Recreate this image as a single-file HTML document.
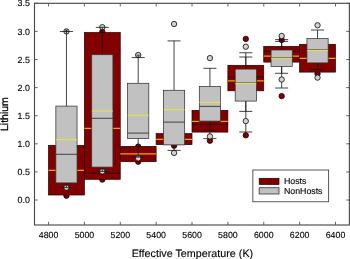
<!DOCTYPE html><html><head><meta charset="utf-8"><title>Lithium vs Effective Temperature</title>
<style>html,body{margin:0;padding:0;background:#fff}svg{display:block}text{font-family:"Liberation Sans",Arial,sans-serif;fill:#000;stroke:#000;stroke-width:0.12px;text-rendering:geometricPrecision}</style></head><body>
<svg width="350" height="259" viewBox="0 0 350 259">
<rect width="350" height="259" fill="#fff"/>
<g id="hosts">
<circle cx="66.45" cy="195.70" r="2.68" fill="#820000" stroke="#1a0000" stroke-width="0.85"/>
<rect x="48.52" y="145.40" width="35.86" height="49.60" fill="#820000" stroke="#1a0000" stroke-width="0.7"/>
<line x1="48.52" y1="170.40" x2="84.38" y2="170.40" stroke="#e8a808" stroke-width="1.15"/>
<circle cx="102.32" cy="31.80" r="2.68" fill="#820000" stroke="#1a0000" stroke-width="0.85"/>
<circle cx="102.32" cy="179.60" r="2.68" fill="#820000" stroke="#1a0000" stroke-width="0.85"/>
<rect x="84.39" y="32.50" width="35.86" height="146.80" fill="#820000" stroke="#1a0000" stroke-width="0.7"/>
<line x1="84.39" y1="173.20" x2="120.25" y2="173.20" stroke="#300000" stroke-width="0.9"/>
<line x1="84.39" y1="128.40" x2="120.25" y2="128.40" stroke="#e8a808" stroke-width="1.15"/>
<circle cx="138.19" cy="146.60" r="2.68" fill="#820000" stroke="#1a0000" stroke-width="0.85"/>
<circle cx="138.19" cy="161.70" r="2.68" fill="#820000" stroke="#1a0000" stroke-width="0.85"/>
<rect x="120.26" y="146.40" width="35.86" height="15.30" fill="#820000" stroke="#1a0000" stroke-width="0.7"/>
<line x1="120.26" y1="153.90" x2="156.12" y2="153.90" stroke="#e8a808" stroke-width="1.15"/>
<circle cx="174.06" cy="145.70" r="2.68" fill="#820000" stroke="#1a0000" stroke-width="0.85"/>
<rect x="156.13" y="133.60" width="35.86" height="11.00" fill="#820000" stroke="#1a0000" stroke-width="0.7"/>
<line x1="156.13" y1="139.30" x2="191.99" y2="139.30" stroke="#e8a808" stroke-width="1.15"/>
<line x1="209.93" y1="132.10" x2="209.93" y2="138.60" stroke="#141414" stroke-width="0.8"/>
<line x1="203.43" y1="138.60" x2="216.43" y2="138.60" stroke="#141414" stroke-width="0.8"/>
<circle cx="209.93" cy="140.70" r="2.68" fill="#820000" stroke="#1a0000" stroke-width="0.85"/>
<rect x="192.00" y="110.40" width="35.86" height="21.70" fill="#820000" stroke="#1a0000" stroke-width="0.7"/>
<line x1="192.00" y1="124.30" x2="227.86" y2="124.30" stroke="#300000" stroke-width="0.9"/>
<line x1="192.00" y1="121.40" x2="199.33" y2="121.40" stroke="#e8a808" stroke-width="1.15"/>
<line x1="220.53" y1="121.40" x2="227.86" y2="121.40" stroke="#e8a808" stroke-width="1.15"/>
<line x1="245.80" y1="57.00" x2="245.80" y2="132.00" stroke="#141414" stroke-width="0.8"/>
<line x1="239.30" y1="57.00" x2="252.30" y2="57.00" stroke="#141414" stroke-width="0.8"/>
<line x1="239.30" y1="132.00" x2="252.30" y2="132.00" stroke="#141414" stroke-width="0.8"/>
<circle cx="245.80" cy="38.90" r="2.68" fill="#820000" stroke="#1a0000" stroke-width="0.85"/>
<circle cx="245.80" cy="135.30" r="2.68" fill="#820000" stroke="#1a0000" stroke-width="0.85"/>
<rect x="227.87" y="65.30" width="35.86" height="25.50" fill="#820000" stroke="#1a0000" stroke-width="0.7"/>
<line x1="227.87" y1="77.10" x2="263.73" y2="77.10" stroke="#300000" stroke-width="0.9"/>
<line x1="227.87" y1="80.90" x2="263.73" y2="80.90" stroke="#e8a808" stroke-width="1.15"/>
<line x1="281.67" y1="41.40" x2="281.67" y2="88.00" stroke="#141414" stroke-width="0.8"/>
<line x1="275.17" y1="41.40" x2="288.17" y2="41.40" stroke="#141414" stroke-width="0.8"/>
<line x1="275.17" y1="88.00" x2="288.17" y2="88.00" stroke="#141414" stroke-width="0.8"/>
<circle cx="281.67" cy="40.00" r="2.68" fill="#820000" stroke="#1a0000" stroke-width="0.85"/>
<circle cx="281.67" cy="96.10" r="2.68" fill="#820000" stroke="#1a0000" stroke-width="0.85"/>
<rect x="263.74" y="46.40" width="35.86" height="15.70" fill="#820000" stroke="#1a0000" stroke-width="0.7"/>
<line x1="263.74" y1="51.30" x2="299.60" y2="51.30" stroke="#300000" stroke-width="0.9"/>
<line x1="263.74" y1="56.10" x2="299.60" y2="56.10" stroke="#e8a808" stroke-width="1.15"/>
<circle cx="317.54" cy="73.80" r="2.68" fill="#820000" stroke="#1a0000" stroke-width="0.85"/>
<rect x="299.61" y="44.30" width="35.86" height="27.80" fill="#820000" stroke="#1a0000" stroke-width="0.7"/>
<line x1="299.61" y1="58.30" x2="335.47" y2="58.30" stroke="#e8a808" stroke-width="1.15"/>
</g>
<g id="nonhosts">
<circle cx="66.45" cy="31.40" r="2.68" fill="#d2d2d2" stroke="#141414" stroke-width="0.85"/>
<circle cx="66.45" cy="187.60" r="2.68" fill="#d2d2d2" stroke="#141414" stroke-width="0.85"/>
<line x1="66.45" y1="31.50" x2="66.45" y2="106.10" stroke="#141414" stroke-width="0.8"/>
<line x1="66.45" y1="182.90" x2="66.45" y2="187.60" stroke="#141414" stroke-width="0.8"/>
<line x1="59.95" y1="31.50" x2="72.95" y2="31.50" stroke="#141414" stroke-width="0.8"/>
<line x1="59.95" y1="187.60" x2="72.95" y2="187.60" stroke="#141414" stroke-width="0.8"/>
<rect x="55.85" y="106.10" width="21.20" height="76.80" fill="#c1c1c1" stroke="#333" stroke-width="0.75"/>
<line x1="55.85" y1="154.30" x2="77.05" y2="154.30" stroke="#333" stroke-width="0.9"/>
<line x1="56.05" y1="139.60" x2="76.85" y2="139.60" stroke="#e8e040" stroke-width="1.2"/>
<circle cx="102.32" cy="27.20" r="2.68" fill="#d2d2d2" stroke="#141414" stroke-width="0.85"/>
<circle cx="102.32" cy="171.40" r="2.68" fill="#d2d2d2" stroke="#141414" stroke-width="0.85"/>
<line x1="102.32" y1="27.35" x2="102.32" y2="54.70" stroke="#141414" stroke-width="0.8"/>
<line x1="102.32" y1="167.10" x2="102.32" y2="171.40" stroke="#141414" stroke-width="0.8"/>
<line x1="95.82" y1="27.35" x2="108.82" y2="27.35" stroke="#141414" stroke-width="0.8"/>
<line x1="95.82" y1="171.40" x2="108.82" y2="171.40" stroke="#141414" stroke-width="0.8"/>
<rect x="91.72" y="54.70" width="21.20" height="112.40" fill="#c1c1c1" stroke="#333" stroke-width="0.75"/>
<line x1="91.72" y1="118.30" x2="112.92" y2="118.30" stroke="#333" stroke-width="0.9"/>
<line x1="91.92" y1="111.00" x2="112.72" y2="111.00" stroke="#e8e040" stroke-width="1.2"/>
<circle cx="138.19" cy="55.00" r="2.68" fill="#d2d2d2" stroke="#141414" stroke-width="0.85"/>
<circle cx="138.19" cy="158.30" r="2.68" fill="#d2d2d2" stroke="#141414" stroke-width="0.85"/>
<line x1="138.19" y1="57.60" x2="138.19" y2="83.30" stroke="#141414" stroke-width="0.8"/>
<line x1="138.19" y1="138.60" x2="138.19" y2="157.10" stroke="#141414" stroke-width="0.8"/>
<line x1="131.69" y1="57.60" x2="144.69" y2="57.60" stroke="#141414" stroke-width="0.8"/>
<line x1="131.69" y1="157.10" x2="144.69" y2="157.10" stroke="#141414" stroke-width="0.8"/>
<rect x="127.59" y="83.30" width="21.20" height="55.30" fill="#c1c1c1" stroke="#333" stroke-width="0.75"/>
<line x1="127.59" y1="133.10" x2="148.79" y2="133.10" stroke="#333" stroke-width="0.9"/>
<line x1="127.79" y1="115.40" x2="148.59" y2="115.40" stroke="#e8e040" stroke-width="1.2"/>
<circle cx="174.06" cy="24.00" r="2.68" fill="#d2d2d2" stroke="#141414" stroke-width="0.85"/>
<circle cx="174.06" cy="152.90" r="2.68" fill="#d2d2d2" stroke="#141414" stroke-width="0.85"/>
<line x1="174.06" y1="40.90" x2="174.06" y2="90.30" stroke="#141414" stroke-width="0.8"/>
<line x1="174.06" y1="144.90" x2="174.06" y2="150.40" stroke="#141414" stroke-width="0.8"/>
<line x1="167.56" y1="40.90" x2="180.56" y2="40.90" stroke="#141414" stroke-width="0.8"/>
<line x1="167.56" y1="150.40" x2="180.56" y2="150.40" stroke="#141414" stroke-width="0.8"/>
<rect x="163.46" y="90.30" width="21.20" height="54.60" fill="#c1c1c1" stroke="#333" stroke-width="0.75"/>
<line x1="163.46" y1="122.10" x2="184.66" y2="122.10" stroke="#333" stroke-width="0.9"/>
<line x1="163.66" y1="109.70" x2="184.46" y2="109.70" stroke="#e8e040" stroke-width="1.2"/>
<circle cx="209.93" cy="58.10" r="2.68" fill="#d2d2d2" stroke="#141414" stroke-width="0.85"/>
<circle cx="209.93" cy="136.40" r="2.68" fill="#d2d2d2" stroke="#141414" stroke-width="0.85"/>
<line x1="209.93" y1="68.30" x2="209.93" y2="86.40" stroke="#141414" stroke-width="0.8"/>
<line x1="209.93" y1="121.10" x2="209.93" y2="130.20" stroke="#141414" stroke-width="0.8"/>
<line x1="203.43" y1="68.30" x2="216.43" y2="68.30" stroke="#141414" stroke-width="0.8"/>
<line x1="203.43" y1="130.20" x2="216.43" y2="130.20" stroke="#141414" stroke-width="0.8"/>
<rect x="199.33" y="86.40" width="21.20" height="34.70" fill="#c1c1c1" stroke="#333" stroke-width="0.75"/>
<line x1="199.33" y1="106.40" x2="220.53" y2="106.40" stroke="#333" stroke-width="0.9"/>
<line x1="199.53" y1="102.40" x2="220.33" y2="102.40" stroke="#e8e040" stroke-width="1.2"/>
<circle cx="245.80" cy="46.70" r="2.68" fill="#d2d2d2" stroke="#141414" stroke-width="0.85"/>
<circle cx="245.80" cy="121.10" r="2.68" fill="#d2d2d2" stroke="#141414" stroke-width="0.85"/>
<line x1="245.80" y1="52.75" x2="245.80" y2="69.10" stroke="#141414" stroke-width="0.8"/>
<line x1="245.80" y1="101.10" x2="245.80" y2="111.40" stroke="#141414" stroke-width="0.8"/>
<line x1="239.30" y1="52.75" x2="252.30" y2="52.75" stroke="#141414" stroke-width="0.8"/>
<line x1="239.30" y1="111.40" x2="252.30" y2="111.40" stroke="#141414" stroke-width="0.8"/>
<rect x="235.20" y="69.10" width="21.20" height="32.00" fill="#c1c1c1" stroke="#333" stroke-width="0.75"/>
<line x1="235.20" y1="83.00" x2="256.40" y2="83.00" stroke="#333" stroke-width="0.9"/>
<line x1="235.40" y1="83.60" x2="256.20" y2="83.60" stroke="#e8e040" stroke-width="1.2"/>
<circle cx="281.67" cy="36.00" r="2.68" fill="#d2d2d2" stroke="#141414" stroke-width="0.85"/>
<circle cx="281.67" cy="79.50" r="2.68" fill="#d2d2d2" stroke="#141414" stroke-width="0.85"/>
<line x1="281.67" y1="39.60" x2="281.67" y2="50.00" stroke="#141414" stroke-width="0.8"/>
<line x1="281.67" y1="66.40" x2="281.67" y2="73.30" stroke="#141414" stroke-width="0.8"/>
<line x1="275.17" y1="39.60" x2="288.17" y2="39.60" stroke="#141414" stroke-width="0.8"/>
<line x1="275.17" y1="73.30" x2="288.17" y2="73.30" stroke="#141414" stroke-width="0.8"/>
<rect x="271.07" y="50.00" width="21.20" height="16.40" fill="#c1c1c1" stroke="#333" stroke-width="0.75"/>
<line x1="271.07" y1="57.70" x2="292.27" y2="57.70" stroke="#333" stroke-width="0.9"/>
<line x1="271.27" y1="58.30" x2="292.07" y2="58.30" stroke="#e8e040" stroke-width="1.2"/>
<circle cx="317.54" cy="25.30" r="2.68" fill="#d2d2d2" stroke="#141414" stroke-width="0.85"/>
<circle cx="317.54" cy="77.60" r="2.68" fill="#d2d2d2" stroke="#141414" stroke-width="0.85"/>
<line x1="317.54" y1="30.00" x2="317.54" y2="38.60" stroke="#141414" stroke-width="0.8"/>
<line x1="317.54" y1="62.90" x2="317.54" y2="69.70" stroke="#141414" stroke-width="0.8"/>
<line x1="311.04" y1="30.00" x2="324.04" y2="30.00" stroke="#141414" stroke-width="0.8"/>
<line x1="311.04" y1="69.70" x2="324.04" y2="69.70" stroke="#141414" stroke-width="0.8"/>
<rect x="306.94" y="38.60" width="21.20" height="24.30" fill="#c1c1c1" stroke="#333" stroke-width="0.75"/>
<line x1="306.94" y1="49.80" x2="328.14" y2="49.80" stroke="#333" stroke-width="0.9"/>
<line x1="307.14" y1="50.40" x2="327.94" y2="50.40" stroke="#e8e040" stroke-width="1.2"/>
<line x1="64.75" y1="30.10" x2="68.15" y2="30.10" stroke="#333" stroke-width="0.8"/>
<line x1="66.45" y1="30.10" x2="66.45" y2="32.10" stroke="#141414" stroke-width="0.9"/>
<line x1="136.49" y1="55.10" x2="139.89" y2="55.10" stroke="#333" stroke-width="0.8"/>
<line x1="138.19" y1="55.10" x2="138.19" y2="57.10" stroke="#141414" stroke-width="0.9"/>
</g>
<rect x="34.50" y="3.30" width="314.90" height="221.70" fill="none" stroke="#4b4b4b" stroke-width="1.15"/>
<line x1="34.50" y1="200.00" x2="37.70" y2="200.00" stroke="#555" stroke-width="0.9"/>
<line x1="346.20" y1="200.00" x2="349.40" y2="200.00" stroke="#555" stroke-width="0.9"/>
<text x="29.9" y="203.10" font-size="8.85" text-anchor="end">0.0</text>
<line x1="34.50" y1="171.90" x2="37.70" y2="171.90" stroke="#555" stroke-width="0.9"/>
<line x1="346.20" y1="171.90" x2="349.40" y2="171.90" stroke="#555" stroke-width="0.9"/>
<text x="29.9" y="175.00" font-size="8.85" text-anchor="end">0.5</text>
<line x1="34.50" y1="143.80" x2="37.70" y2="143.80" stroke="#555" stroke-width="0.9"/>
<line x1="346.20" y1="143.80" x2="349.40" y2="143.80" stroke="#555" stroke-width="0.9"/>
<text x="29.9" y="146.90" font-size="8.85" text-anchor="end">1.0</text>
<line x1="34.50" y1="115.70" x2="37.70" y2="115.70" stroke="#555" stroke-width="0.9"/>
<line x1="346.20" y1="115.70" x2="349.40" y2="115.70" stroke="#555" stroke-width="0.9"/>
<text x="29.9" y="118.80" font-size="8.85" text-anchor="end">1.5</text>
<line x1="34.50" y1="87.60" x2="37.70" y2="87.60" stroke="#555" stroke-width="0.9"/>
<line x1="346.20" y1="87.60" x2="349.40" y2="87.60" stroke="#555" stroke-width="0.9"/>
<text x="29.9" y="90.70" font-size="8.85" text-anchor="end">2.0</text>
<line x1="34.50" y1="59.50" x2="37.70" y2="59.50" stroke="#555" stroke-width="0.9"/>
<line x1="346.20" y1="59.50" x2="349.40" y2="59.50" stroke="#555" stroke-width="0.9"/>
<text x="29.9" y="62.60" font-size="8.85" text-anchor="end">2.5</text>
<line x1="34.50" y1="31.40" x2="37.70" y2="31.40" stroke="#555" stroke-width="0.9"/>
<line x1="346.20" y1="31.40" x2="349.40" y2="31.40" stroke="#555" stroke-width="0.9"/>
<text x="29.9" y="34.50" font-size="8.85" text-anchor="end">3.0</text>
<line x1="34.50" y1="3.30" x2="37.70" y2="3.30" stroke="#555" stroke-width="0.9"/>
<line x1="346.20" y1="3.30" x2="349.40" y2="3.30" stroke="#555" stroke-width="0.9"/>
<text x="29.9" y="6.40" font-size="8.85" text-anchor="end">3.5</text>
<line x1="48.55" y1="225.00" x2="48.55" y2="221.80" stroke="#555" stroke-width="0.9"/>
<line x1="48.55" y1="3.30" x2="48.55" y2="6.50" stroke="#555" stroke-width="0.9"/>
<text x="48.55" y="237.7" font-size="8.8" text-anchor="middle">4800</text>
<line x1="84.42" y1="225.00" x2="84.42" y2="221.80" stroke="#555" stroke-width="0.9"/>
<line x1="84.42" y1="3.30" x2="84.42" y2="6.50" stroke="#555" stroke-width="0.9"/>
<text x="84.42" y="237.7" font-size="8.8" text-anchor="middle">5000</text>
<line x1="120.29" y1="225.00" x2="120.29" y2="221.80" stroke="#555" stroke-width="0.9"/>
<line x1="120.29" y1="3.30" x2="120.29" y2="6.50" stroke="#555" stroke-width="0.9"/>
<text x="120.29" y="237.7" font-size="8.8" text-anchor="middle">5200</text>
<line x1="156.16" y1="225.00" x2="156.16" y2="221.80" stroke="#555" stroke-width="0.9"/>
<line x1="156.16" y1="3.30" x2="156.16" y2="6.50" stroke="#555" stroke-width="0.9"/>
<text x="156.16" y="237.7" font-size="8.8" text-anchor="middle">5400</text>
<line x1="192.03" y1="225.00" x2="192.03" y2="221.80" stroke="#555" stroke-width="0.9"/>
<line x1="192.03" y1="3.30" x2="192.03" y2="6.50" stroke="#555" stroke-width="0.9"/>
<text x="192.03" y="237.7" font-size="8.8" text-anchor="middle">5600</text>
<line x1="227.90" y1="225.00" x2="227.90" y2="221.80" stroke="#555" stroke-width="0.9"/>
<line x1="227.90" y1="3.30" x2="227.90" y2="6.50" stroke="#555" stroke-width="0.9"/>
<text x="227.90" y="237.7" font-size="8.8" text-anchor="middle">5800</text>
<line x1="263.77" y1="225.00" x2="263.77" y2="221.80" stroke="#555" stroke-width="0.9"/>
<line x1="263.77" y1="3.30" x2="263.77" y2="6.50" stroke="#555" stroke-width="0.9"/>
<text x="263.77" y="237.7" font-size="8.8" text-anchor="middle">6000</text>
<line x1="299.64" y1="225.00" x2="299.64" y2="221.80" stroke="#555" stroke-width="0.9"/>
<line x1="299.64" y1="3.30" x2="299.64" y2="6.50" stroke="#555" stroke-width="0.9"/>
<text x="299.64" y="237.7" font-size="8.8" text-anchor="middle">6200</text>
<line x1="335.51" y1="225.00" x2="335.51" y2="221.80" stroke="#555" stroke-width="0.9"/>
<line x1="335.51" y1="3.30" x2="335.51" y2="6.50" stroke="#555" stroke-width="0.9"/>
<text x="335.51" y="237.7" font-size="8.8" text-anchor="middle">6400</text>
<text x="192.4" y="256.7" font-size="10.75" text-anchor="middle">Effective Temperature (K)</text>
<text transform="translate(8.3,114.1) rotate(-90)" font-size="10.5" style="stroke-width:0.3px" text-anchor="middle">Lithium</text>
<rect x="252.85" y="170.0" width="75.75" height="31.75" fill="#fff" stroke="#484848" stroke-width="0.9"/>
<rect x="259.2" y="178.3" width="19.8" height="6.2" fill="#820000" stroke="#1a0000" stroke-width="0.7"/>
<rect x="259.2" y="187.7" width="19.8" height="6.3" fill="#c1c1c1" stroke="#333" stroke-width="0.8"/>
<text x="283.9" y="184.0" font-size="8.8">Hosts</text>
<text x="283.9" y="193.6" font-size="8.8">NonHosts</text>
</svg></body></html>
